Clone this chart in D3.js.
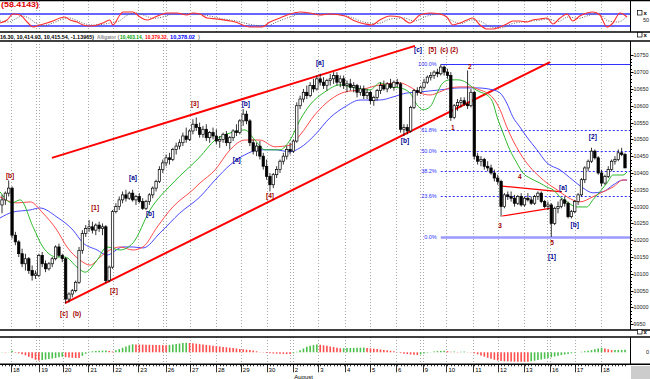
<!DOCTYPE html>
<html>
<head>
<meta charset="utf-8">
<script src="https://cdn.jsdelivr.net/npm/d3@7"></script>
<style>
body { margin: 0; background: #fff; }
svg { display: block; font-family: "Liberation Sans", Arial, sans-serif; }
</style>
</head>
<body>
<svg id="chart" width="650" height="379"></svg>
<script>
// hourly bars [open, high, low, close]
var candles = [
  [10305,10335,10280,10320],[10320,10345,10305,10340],[10340,10378,10330,10355],[10355,10360,10205,10215],
  [10215,10225,10185,10195],[10195,10200,10150,10160],[10160,10175,10120,10130],[10130,10160,10110,10145],
  [10145,10150,10100,10110],[10110,10125,10080,10095],[10095,10110,10085,10100],[10095,10160,10090,10155],
  [10155,10165,10120,10130],[10130,10140,10105,10115],[10115,10135,10110,10130],[10130,10150,10120,10145],
  [10145,10185,10140,10180],[10180,10190,10150,10155],[10155,10160,10135,10145],[10145,10150,10012,10025],
  [10025,10045,10015,10040],[10040,10055,10030,10050],[10050,10080,10045,10075],[10075,10180,10070,10170],
  [10170,10230,10160,10220],[10220,10245,10210,10235],[10235,10260,10225,10240],[10240,10255,10220,10230],
  [10230,10250,10215,10245],[10245,10255,10225,10235],[10235,10250,10215,10240],[10240,10245,10072,10080],
  [10080,10125,10075,10120],[10120,10290,10115,10285],[10285,10310,10280,10300],[10300,10330,10290,10320],
  [10320,10345,10310,10335],[10335,10350,10315,10325],[10325,10345,10320,10340],[10340,10350,10315,10320],
  [10320,10335,10305,10330],[10330,10340,10310,10315],[10315,10325,10290,10295],[10295,10320,10290,10315],
  [10315,10340,10305,10335],[10335,10360,10325,10355],[10355,10380,10345,10375],[10375,10420,10370,10410],
  [10410,10440,10400,10430],[10430,10455,10420,10445],[10445,10460,10425,10440],[10440,10475,10435,10470],
  [10470,10490,10455,10480],[10480,10500,10470,10490],[10490,10520,10480,10510],[10510,10535,10490,10500],
  [10500,10530,10495,10525],[10525,10560,10515,10545],[10545,10565,10525,10535],[10535,10550,10505,10515],
  [10515,10540,10505,10530],[10530,10545,10495,10505],[10505,10525,10490,10520],[10520,10535,10500,10510],
  [10510,10530,10485,10495],[10495,10510,10475,10500],[10500,10520,10490,10515],[10515,10525,10480,10490],
  [10490,10510,10470,10505],[10505,10530,10495,10525],[10525,10545,10510,10520],[10520,10560,10515,10555],
  [10555,10590,10540,10575],[10575,10585,10545,10555],[10555,10560,10480,10490],[10490,10500,10455,10465],
  [10465,10490,10450,10480],[10480,10495,10440,10450],[10450,10460,10410,10420],[10420,10440,10380,10390],
  [10390,10400,10345,10365],[10365,10400,10355,10395],[10395,10420,10385,10410],[10410,10440,10400,10435],
  [10435,10460,10425,10450],[10450,10480,10440,10470],[10470,10490,10455,10465],[10465,10500,10460,10495],
  [10495,10610,10490,10600],[10600,10630,10590,10620],[10620,10650,10610,10640],[10640,10660,10620,10630],
  [10630,10670,10625,10660],[10660,10680,10640,10650],[10650,10690,10645,10680],[10680,10695,10660,10670],
  [10670,10685,10650,10660],[10660,10680,10645,10675],[10675,10695,10660,10680],[10680,10700,10665,10690],
  [10690,10700,10660,10670],[10670,10690,10655,10680],[10680,10690,10650,10660],[10660,10675,10640,10665],
  [10665,10680,10645,10655],[10655,10670,10640,10660],[10660,10665,10625,10640],[10640,10660,10630,10650],
  [10650,10660,10620,10630],[10630,10650,10620,10640],[10640,10645,10605,10615],[10615,10630,10600,10625],
  [10625,10650,10615,10645],[10645,10670,10635,10660],[10660,10675,10645,10650],[10650,10670,10640,10665],
  [10665,10680,10650,10655],[10655,10675,10645,10670],[10670,10680,10655,10665],[10665,10670,10520,10530],
  [10530,10545,10510,10535],[10535,10545,10515,10525],[10525,10600,10520,10595],[10595,10650,10590,10645],
  [10645,10655,10630,10640],[10640,10660,10635,10655],[10655,10680,10650,10670],[10670,10690,10665,10685],
  [10685,10700,10675,10690],[10690,10705,10680,10700],[10700,10710,10685,10695],[10695,10723,10690,10715],
  [10715,10720,10690,10700],[10700,10710,10680,10690],[10690,10700,10555,10565],[10565,10605,10560,10600],
  [10600,10620,10585,10610],[10610,10625,10595,10615],[10615,10625,10600,10605],[10605,10705,10590,10600],
  [10600,10650,10595,10640],[10640,10645,10440,10450],[10450,10460,10425,10435],[10435,10450,10420,10440],
  [10440,10445,10410,10420],[10420,10435,10405,10415],[10415,10425,10395,10400],[10400,10410,10375,10385],
  [10385,10395,10365,10375],[10375,10380,10270,10300],[10300,10340,10295,10335],[10335,10345,10320,10330],
  [10330,10345,10315,10325],[10325,10335,10300,10310],[10310,10335,10305,10330],[10330,10340,10300,10305],
  [10305,10330,10300,10325],[10325,10340,10315,10320],[10320,10330,10305,10310],[10310,10335,10305,10330],
  [10330,10345,10320,10340],[10340,10345,10310,10315],[10315,10320,10295,10300],[10300,10315,10290,10305],
  [10305,10310,10210,10250],[10250,10300,10245,10295],[10295,10315,10280,10300],[10300,10325,10295,10320],
  [10320,10330,10300,10310],[10310,10315,10265,10270],[10270,10290,10265,10285],[10285,10320,10280,10315],
  [10315,10340,10305,10335],[10335,10385,10330,10380],[10380,10420,10370,10415],[10415,10440,10405,10435],
  [10435,10475,10430,10465],[10465,10470,10440,10445],[10445,10450,10395,10400],[10400,10410,10360,10370],
  [10370,10395,10365,10390],[10390,10420,10385,10410],[10410,10440,10405,10435],[10435,10450,10425,10440],
  [10440,10470,10435,10460],[10460,10475,10450,10455],[10455,10460,10415,10415]
];

// alligator lines, [bar, price]
var lips = [[-0.6,10344],[3,10311],[5.4,10320],[9.3,10239],[12.2,10180],[16.4,10150],[18.8,10150],[22.4,10120],
  [24.8,10105],[28.4,10141],[31.3,10180],[35.2,10171],[39.1,10192],[44.2,10290],[51,10370],[59.1,10448],
  [63.6,10498],[68.1,10519],[72.5,10528],[75.5,10498],[78.5,10469],[83,10469],[86,10498],[89,10558],
  [91.9,10602],[96.4,10641],[100.9,10662],[105.4,10653],[109.9,10647],[112.8,10668],[115.8,10656],[118.8,10653],
  [121.8,10638],[123.9,10603],[125.7,10588],[127.8,10597],[129.9,10638],[131.6,10668],[133.7,10677],[136.1,10677],
  [138.8,10668],[140.6,10653],[142.7,10641],[144.8,10632],[146.6,10608],[147.8,10567],[149.6,10519],[151.6,10469],
  [153.7,10430],[155.5,10400],[157.6,10385],[160.6,10370],[162.7,10358],[164.5,10350],[166.6,10329],[168.7,10314],
  [171.6,10299],[174.6,10299],[176.4,10320],[178.5,10344],[180.6,10370],[182.4,10394],[185.4,10394],[186.6,10403]];
var teeth = [[-0.6,10329],[4.5,10311],[8.4,10314],[12.2,10281],[16.4,10230],[19.4,10180],[23.3,10141],[26.3,10126],
  [29.3,10150],[32.2,10171],[35.2,10180],[39.1,10171],[42.1,10180],[46.3,10239],[51,10299],[57,10350],
  [59.1,10370],[63.6,10409],[68.1,10469],[72.5,10498],[77,10498],[81.5,10478],[86,10483],[89,10513],
  [93.4,10573],[97.9,10617],[102.4,10641],[106.9,10647],[112.8,10662],[118.8,10668],[121.8,10656],[124.8,10638],
  [127.8,10632],[130.7,10641],[133.7,10653],[136.7,10656],[139.7,10656],[142.7,10647],[144.8,10638],[146.6,10623],
  [148.7,10588],[150.7,10537],[152.5,10498],[154.6,10460],[157.6,10418],[160.6,10388],[162.7,10370],[165.7,10350],
  [168.7,10329],[172.5,10314],[176.4,10329],[179.4,10344],[182.4,10358],[185.4,10379],[186.6,10379]];
var jaw = [[-0.6,10266],[3.3,10284],[8.4,10290],[11.3,10296],[16.4,10269],[21.2,10230],[24.2,10192],[28.4,10171],
  [31.3,10156],[36.1,10180],[39.1,10180],[42.1,10177],[47.2,10222],[53.1,10281],[59.1,10329],[63.6,10379],
  [68.1,10424],[72.5,10454],[77,10469],[81.5,10469],[86,10463],[89,10475],[93.4,10513],[97.9,10564],
  [102.4,10597],[106.9,10617],[112.8,10617],[116.7,10626],[120.9,10638],[124.8,10641],[130.7,10647],[136.7,10653],
  [141.8,10653],[146.6,10647],[148.7,10638],[150.7,10608],[152.5,10567],[154.6,10537],[156.7,10507],[159.7,10469],
  [162.7,10430],[166.6,10409],[170.4,10379],[173.4,10356],[176.4,10341],[179.4,10344],[182.4,10364],[185.4,10379],
  [186.6,10379]];

// oscillator on top, [bar, value]
var oscLine = [[-0.6,35],[1.5,50],[3.3,80],[5.4,75],[7.5,40],[9.3,15],[11.3,25],[13.4,35],[15.2,45],[17.3,60],
  [18.8,65],[20.3,50],[22.4,40],[24.2,25],[26.3,20],[28.4,25],[30.1,35],[32.2,50],[33.1,25],[35.2,75],[36.1,90],
  [39.1,90],[41.2,65],[43.3,50],[45.1,60],[47.2,75],[49.3,85],[52.2,85],[55.2,75],[57,85],[59.1,80],[61.2,60],
  [64.2,55],[69.6,40],[74,15],[77.6,15],[80,40],[83,60],[86,80],[89,90],[91.9,85],[94.9,75],[97.9,80],
  [102.4,70],[105.4,45],[108.4,30],[110.4,25],[112.8,50],[115.8,70],[118.8,65],[121.8,35],[124.8,75],[127.8,85],
  [130.7,80],[132.8,65],[134.6,25],[136.7,35],[138.8,50],[140.6,60],[142.7,25],[144.8,5],[146.6,5],[148.7,15],
  [150.7,30],[152.5,45],[154.6,45],[156.7,40],[158.5,50],[160.6,55],[162.7,60],[164.5,30],[166.6,60],[168.7,80],
  [170.4,45],[172.5,70],[174.6,85],[176.4,90],[178.5,75],[180.6,15],[182.4,35],[184.5,85],[186.6,65]];
var oscSignal = [[-0.6,45],[2,40],[4,55],[6,70],[8,60],[10,35],[12,22],[14,28],[16,40],[18,55],[20,60],[22,50],
  [24,35],[27,25],[30,28],[33,38],[35,45],[37,70],[40,85],[43,70],[45,58],[48,65],[51,80],[55,82],[58,80],
  [62,70],[66,55],[70,45],[75,25],[79,20],[82,40],[86,65],[90,85],[94,80],[99,78],[104,65],[108,40],[112,32],
  [116,55],[120,60],[123,45],[127,70],[131,82],[134,50],[137,32],[140,50],[143,42],[146,15],[149,10],[152,30],
  [156,42],[160,48],[163,55],[166,42],[169,65],[172,58],[175,72],[178,85],[181,45],[184,40],[186.6,70]];
var oscLevels = [20, 80];

// awesome oscillator, one value per bar
var ao = [3,-3,2,15,-5,-10,-20,-30,-45,-60,-75,-83,-78,-73,-68,-62,-56,-50,-45,-48,-52,-55,-57,-58,
  -35,-15,5,10,13,16,17,18,12,8,20,32,45,58,70,80,79,78,77,76,75,74,73,72,71,70,
  74,79,84,88,92,95,93,90,86,82,78,74,70,66,62,58,54,50,46,42,38,34,30,26,22,18,10,3,
  -3,-7,-10,-12,-14,-15,-16,-17,-18,-10,5,20,38,55,65,72,78,75,70,65,58,52,46,40,
  41,42,43,44,45,46,47,44,40,36,32,28,24,20,15,10,-2,-8,-14,-18,-22,-25,-27,
  -20,-12,-5,2,8,12,14,15,12,6,9,3,5,7,2,-3,-10,-20,-32,-44,-55,-65,-75,-82,-88,
  -90,-91,-92,-93,-93.5,-94,-94.5,-95,-90,-84,-78,-72,-65,-58,-50,
  -42,-35,-28,-22,-16,-10,-5,0,5,10,15,22,30,38,45,38,30,22,23,24,25,26];

var days = ["18","19","20","21","22","23","26","27","28","29","30","2","3","4","5","6","9","10","11","12","13","16","17","18"];
var dayStart = [2.7,11.1,18.1,25.8,33.2,40.7,48.9,56.1,63.9,71.3,79,86.8,94.4,102.4,109.9,117.6,125.6,132.7,140.7,148.1,155.8,163.6,171,178.8];
var weekStarts = [1, 6, 11, 16, 21];   // indexes into days, Mondays get a double grid line
var monthLabel = { day: 11, text: "August" };

var priceTicks = [9950,10000,10050,10100,10150,10200,10250,10300,10350,10400,10450,10500,10550,10600,10650,10700,10750];

// trend lines [bar, price]
var trendLines = [
  [[14.9,10445],[123.3,10778]],
  [[18.8,10013],[163.6,10730]],
  [[149.3,10361],[167.2,10344]],
  [[149.3,10272],[164.5,10296]]
];

// fibonacci retracement
var fibHigh = 10723, fibLow = 10210, fibStart = 131;
var fibLevels = [100, 61.8, 50, 38.2, 23.6, 0];

// wave labels [text, bar, price, colour]
var waveLabels = [
  ["[b]",2.4,10394,"r"],["[c]",18.5,9983,"r"],["(b)",22.4,9983,"r"],["[1]",27.8,10296,"r"],["[2]",33.4,10052,"r"],
  ["[3]",57.6,10608,"r"],["[4]",80,10332,"r"],["[5]",128.5,10766,"r"],["(c)",132,10766,"r"],["(2)",135,10766,"r"],
  ["1",134.6,10534,"r"],["2",139.7,10716,"r"],["3",148.7,10245,"r"],["4",154.6,10391,"r"],["5",164.2,10192,"r"],
  ["[a]",39.1,10388,"b"],["[b]",44.2,10281,"b"],["[a]",70.1,10439,"b"],["[b]",72.8,10608,"b"],["[a]",94.9,10730,"b"],
  ["[b]",120.3,10498,"b"],["[c]",124.2,10766,"b"],["[1]",164.2,10153,"b"],["[a]",167.5,10358,"b"],["[b]",171,10248,"b"],
  ["[2]",176.4,10510,"b"]
];

var header = [
  { text: "16.30, 10,414.93, 10,415.54, -1.13965)", x: 0, w: 94, color: "#000" },
  { text: "Alligator", x: 97, w: 19, color: "#888" },
  { text: "(", x: 117.5, w: 2, color: "#888" },
  { text: "10,403.14,", x: 120, w: 23, color: "#00a000" },
  { text: "10,379.32,", x: 145, w: 23, color: "#ff0000" },
  { text: "10,378.02", x: 170, w: 25, color: "#0000ff" },
  { text: ")", x: 198, w: 2, color: "#888" }
];
var oscTitle = "(58.4143)";

var svg = d3.select("#chart");
var W = 650, axisX = 630;
var main = { top: 41, bottom: 330 }, oscP = { top: 1, bottom: 32 }, aoP = { top: 337, bottom: 364.3 };

var x = d3.scaleLinear().domain([0, candles.length - 1]).range([2, 625]);
var y = d3.scaleLinear().domain([9950, 10750]).range([324.3, 55.3]);
var oy = d3.scaleLinear().domain([0, 100]).range([30, 10]);
var ay = d3.scaleLinear().domain([-120, 120]).range([364.3, 340.3]);

svg.append("rect").attr("width", W).attr("height", 379).attr("fill", "#fff");

// grid
var grid = svg.append("g").attr("stroke", "#aaa").attr("stroke-dasharray", "1,2").attr("stroke-width", 1);
[[oscP.top, oscP.bottom], [main.top, main.bottom], [aoP.top, aoP.bottom]].forEach(function (p) {
  dayStart.forEach(function (d, k) {
    var xs = [x(d)];
    if (weekStarts.indexOf(k) >= 0) xs.push(x(d) - 3);
    xs.forEach(function (xx) {
      grid.append("line").attr("x1", Math.round(xx) + 0.5).attr("x2", Math.round(xx) + 0.5)
        .attr("y1", p[0]).attr("y2", p[1]);
    });
  });
});

// ---- oscillator panel
svg.append("g").selectAll("line").data(oscLevels).join("line")
  .attr("x1", 0).attr("x2", axisX).attr("y1", d => oy(d)).attr("y2", d => oy(d))
  .attr("stroke", "#3333ff").attr("stroke-width", 1.3);
var oline = d3.line().x(d => x(d[0])).y(d => oy(d[1])).curve(d3.curveMonotoneX);
svg.append("path").attr("d", oline(oscSignal)).attr("fill", "none").attr("stroke", "#666")
  .attr("stroke-width", 1).attr("stroke-dasharray", "1,1.5");
svg.append("path").attr("d", oline(oscLine)).attr("fill", "none").attr("stroke", "#ff3030").attr("stroke-width", 1.1);
svg.append("text").attr("x", 1).attr("y", 7).attr("fill", "#e00000").attr("font-size", 7.5)
  .attr("font-weight", "bold").attr("textLength", 38).attr("lengthAdjust", "spacingAndGlyphs").text(oscTitle);

// ---- main panel
svg.append("clipPath").attr("id", "clipMain").append("rect")
  .attr("x", 0).attr("y", main.top).attr("width", axisX).attr("height", main.bottom - main.top);
var g = svg.append("g").attr("clip-path", "url(#clipMain)");

// fib retracement
var fibPrice = function (lv) { return fibLow + (fibHigh - fibLow) * lv / 100; };
g.selectAll("line.fib").data(fibLevels).join("line").attr("class", "fib")
  .attr("x1", x(fibStart)).attr("x2", axisX)
  .attr("y1", d => Math.round(y(fibPrice(d))) + 0.5).attr("y2", d => Math.round(y(fibPrice(d))) + 0.5)
  .attr("stroke", d => d === 0 ? "#9a9aff" : "#3030ff")
  .attr("stroke-width", d => d === 0 ? 2.5 : 1)
  .attr("stroke-dasharray", d => (d === 0 || d === 100) ? null : "2,2");
g.selectAll("text.fib").data(fibLevels).join("text").attr("class", "fib")
  .attr("x", x(fibStart) - 4).attr("y", d => y(fibPrice(d)) + 2)
  .attr("text-anchor", "end").attr("font-size", 5.5).attr("fill", "#3030ff")
  .text(d => d.toFixed(1) + "%");

// trend lines
g.selectAll("line.trend").data(trendLines).join("line").attr("class", "trend")
  .attr("x1", d => x(d[0][0])).attr("y1", d => y(d[0][1]))
  .attr("x2", d => x(d[1][0])).attr("y2", d => y(d[1][1]))
  .attr("stroke", "#ff0000").attr("stroke-width", (d, i) => i < 2 ? 2 : 1.2);

// alligator
var pline = d3.line().x(d => x(d[0])).y(d => y(d[1])).curve(d3.curveMonotoneX);
[[jaw, "#4a4aff"], [teeth, "#ff4a4a"], [lips, "#2eb82e"]].forEach(function (s) {
  g.append("path").attr("d", pline(s[0])).attr("fill", "none").attr("stroke", s[1]).attr("stroke-width", 1);
});

// candles
var bw = 2.4;
g.selectAll("line.wick").data(candles).join("line").attr("class", "wick")
  .attr("x1", (d, i) => x(i)).attr("x2", (d, i) => x(i))
  .attr("y1", d => y(d[1])).attr("y2", d => y(d[2]))
  .attr("stroke", "#000").attr("stroke-width", 0.8);
g.selectAll("rect.body").data(candles).join("rect").attr("class", "body")
  .attr("x", (d, i) => x(i) - bw / 2).attr("width", bw)
  .attr("y", d => y(Math.max(d[0], d[3])))
  .attr("height", d => Math.max(0.8, Math.abs(y(d[0]) - y(d[3]))))
  .attr("fill", d => d[3] >= d[0] ? "#fff" : "#000")
  .attr("stroke", "#000").attr("stroke-width", 0.7);

// wave labels
g.selectAll("text.wave").data(waveLabels).join("text").attr("class", "wave")
  .attr("x", d => x(d[1])).attr("y", d => y(d[2]) + 2.5)
  .attr("text-anchor", "middle").attr("font-size", 6.5).attr("font-weight", "bold")
  .attr("fill", d => d[3] === "r" ? "#a00000" : "#000090")
  .text(d => d[0]);

// header
svg.selectAll("text.head").data(header).join("text").attr("class", "head")
  .attr("x", d => d.x).attr("y", 38.8).attr("font-size", 5.2).attr("font-weight", "bold")
  .attr("font-family", "'Liberation Sans Narrow', 'Liberation Sans', sans-serif")
  .attr("fill", d => d.color).attr("textLength", d => d.w).attr("lengthAdjust", "spacingAndGlyphs")
  .text(d => d.text);

// ---- AO panel
svg.append("g").selectAll("line").data(ao).join("line")
  .attr("x1", (d, i) => x(i)).attr("x2", (d, i) => x(i))
  .attr("y1", ay(0)).attr("y2", d => ay(d))
  .attr("stroke", (d, i) => (i === 0 || d >= ao[i - 1]) ? "#4cbf4c" : "#ff4c4c")
  .attr("stroke-width", 1.6);

// ---- frames
var frames = [oscP.top - 0.5, oscP.bottom, main.top, main.bottom, aoP.top, aoP.bottom];
svg.selectAll("line.frame").data(frames).join("line").attr("class", "frame")
  .attr("x1", 0).attr("x2", W).attr("y1", d => d).attr("y2", d => d)
  .attr("stroke", "#000").attr("stroke-width", 1.4);
svg.append("rect").attr("x", axisX + 1).attr("y", 366).attr("width", 19).attr("height", 13).attr("fill", "#ccc");

// right axes
var axG = svg.append("g").attr("stroke", "#000").attr("stroke-width", 1);
[[oscP.top, oscP.bottom], [main.top, main.bottom], [aoP.top, aoP.bottom]].forEach(function (p) {
  axG.append("line").attr("x1", axisX + 0.5).attr("x2", axisX + 0.5).attr("y1", p[0]).attr("y2", p[1]);
});
var minor = d3.range(9950, 10760, 10);
axG.selectAll("line.mt").data(minor).join("line").attr("class", "mt")
  .attr("x1", axisX).attr("x2", axisX + 2).attr("y1", d => Math.round(y(d)) + 0.5).attr("y2", d => Math.round(y(d)) + 0.5);
axG.selectAll("line.Mt").data(priceTicks).join("line").attr("class", "Mt")
  .attr("x1", axisX).attr("x2", axisX + 3.5).attr("y1", d => Math.round(y(d)) + 0.5).attr("y2", d => Math.round(y(d)) + 0.5);
svg.selectAll("text.pt").data(priceTicks).join("text").attr("class", "pt")
  .attr("x", axisX + 3.5).attr("y", d => y(d) + 2).attr("font-size", 5.6).attr("fill", "#222")
  .attr("textLength", d => String(d).length * 3).attr("lengthAdjust", "spacingAndGlyphs")
  .text(d => d);
svg.append("text").attr("x", 643).attr("y", oy(50) + 2).attr("font-size", 5.6).attr("fill", "#222").text("50");
svg.append("text").attr("x", 646).attr("y", ay(0) + 2).attr("font-size", 5.6).attr("fill", "#222").text("0");

// window buttons
[[oscP.top + 12], [main.top - 6], [aoP.top - 5]].forEach(function (p) {
  var yy = p[0];
  svg.append("rect").attr("x", 637.5).attr("y", yy - 2.5).attr("width", 4.5).attr("height", 4.5)
    .attr("fill", "#fff").attr("stroke", "#000").attr("stroke-width", 0.7);
  svg.append("text").attr("x", 643.5).attr("y", yy + 2).attr("font-size", 6).attr("font-weight", "bold").text("x");
});

// ---- date axis
var dg = svg.append("g").attr("stroke", "#000").attr("stroke-width", 0.8);
dg.selectAll("line.bt").data(candles).join("line").attr("class", "bt")
  .attr("x1", (d, i) => Math.round(x(i)) + 0.5).attr("x2", (d, i) => Math.round(x(i)) + 0.5)
  .attr("y1", aoP.bottom).attr("y2", aoP.bottom + 2);
dg.selectAll("line.dt").data(dayStart).join("line").attr("class", "dt")
  .attr("x1", d => Math.round(x(d)) + 0.5).attr("x2", d => Math.round(x(d)) + 0.5)
  .attr("y1", aoP.bottom).attr("y2", aoP.bottom + 8);
svg.selectAll("text.day").data(days).join("text").attr("class", "day")
  .attr("x", (d, k) => x(dayStart[k]) + 2).attr("y", 371.5).attr("font-size", 6).attr("fill", "#000")
  .text(d => d);
svg.append("text").attr("x", x(dayStart[monthLabel.day]) + 1.5).attr("y", 378.5)
  .attr("font-size", 6).text(monthLabel.text);
</script>
</body>
</html>
